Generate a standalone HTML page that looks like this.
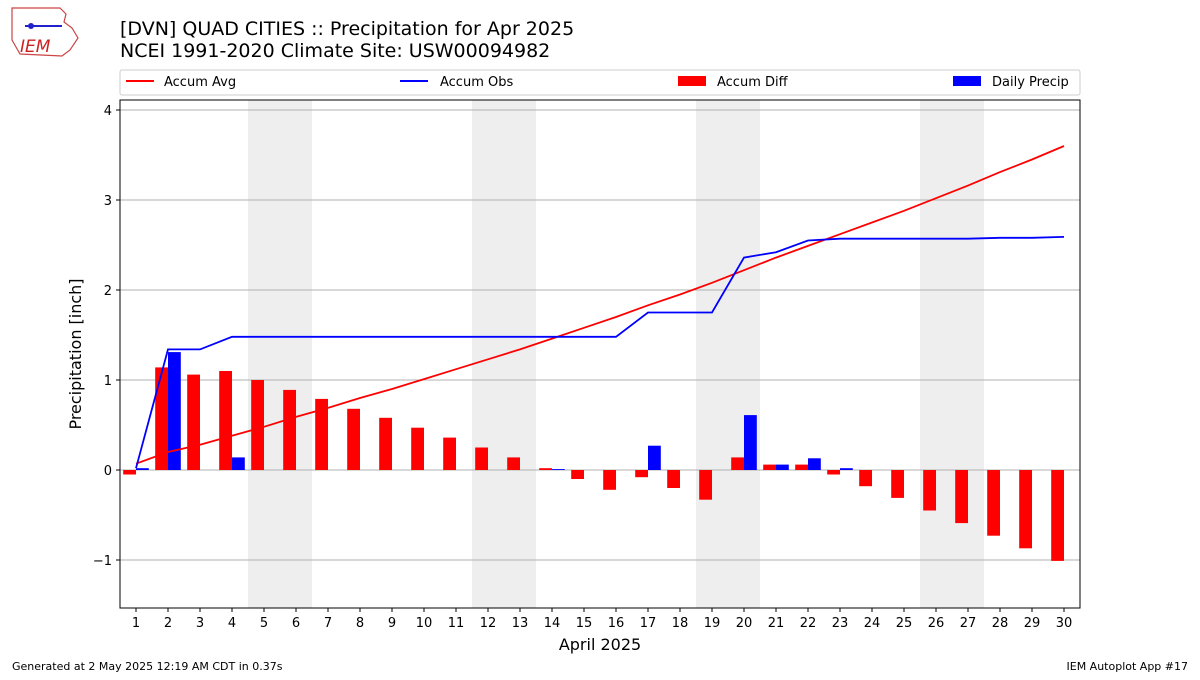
<!DOCTYPE html>
<html><head><meta charset="utf-8"><style>
body{margin:0;background:#fff;font-family:"Liberation Sans","DejaVu Sans",sans-serif;}
svg text{font-family:"DejaVu Sans","Liberation Sans",sans-serif;}
</style></head><body>
<svg id="chart" width="1200" height="675" xmlns="http://www.w3.org/2000/svg">
<g>
<path d="M12 8 L60 8 L66 14 L64 22 L72 28 L78 38 L70 50 L62 56 L20 54 L12 40 Z" fill="none" stroke="#c44" stroke-width="1.2"/>
<text x="20" y="52" font-size="17" fill="#c22" font-style="italic" font-family="Liberation Serif,serif">IEM</text>
<line x1="25" y1="26" x2="62" y2="26" stroke="#22c" stroke-width="2"/>
<circle cx="31" cy="26" r="3" fill="#22c"/>
</g>
<text x="120" y="35" font-size="19">[DVN] QUAD CITIES :: Precipitation for Apr 2025</text>
<text x="120" y="57" font-size="19">NCEI 1991-2020 Climate Site: USW00094982</text>
<g id="legend">
<rect x="120" y="70" width="960" height="25" fill="#fff" stroke="#ccc" rx="2"/>
<g><line x1="126" y1="81" x2="154" y2="81" stroke="red" stroke-width="2"/><text x="164" y="86" font-size="13">Accum Avg</text></g>
<g><line x1="400" y1="81" x2="428" y2="81" stroke="blue" stroke-width="2"/><text x="440" y="86" font-size="13">Accum Obs</text></g>
<g><rect x="678" y="76" width="28" height="10" fill="red"/><text x="717" y="86" font-size="13">Accum Diff</text></g>
<g><rect x="953" y="76" width="28" height="10" fill="blue"/><text x="992" y="86" font-size="13">Daily Precip</text></g>
</g>
<g id="plot"></g>
<text x="600" y="650" font-size="16" text-anchor="middle">April 2025</text>
<text transform="translate(81,354) rotate(-90)" font-size="16" text-anchor="middle">Precipitation [inch]</text>
<text x="12" y="670" font-size="11">Generated at 2 May 2025 12:19 AM CDT in 0.37s</text>
<text x="1188" y="670" font-size="11" text-anchor="end">IEM Autoplot App #17</text>
</svg>
<script>
const days=[1,2,3,4,5,6,7,8,9,10,11,12,13,14,15,16,17,18,19,20,21,22,23,24,25,26,27,28,29,30];
const accumAvg=[0.07,0.20,0.28,0.38,0.48,0.59,0.69,0.80,0.90,1.01,1.12,1.23,1.34,1.46,1.58,1.70,1.83,1.95,2.08,2.22,2.36,2.49,2.62,2.75,2.88,3.02,3.16,3.31,3.45,3.60];
const accumObs=[0.02,1.34,1.34,1.48,1.48,1.48,1.48,1.48,1.48,1.48,1.48,1.48,1.48,1.48,1.48,1.48,1.75,1.75,1.75,2.36,2.42,2.55,2.57,2.57,2.57,2.57,2.57,2.58,2.58,2.59];
const accumDiff=[-0.05,1.14,1.06,1.10,1.00,0.89,0.79,0.68,0.58,0.47,0.36,0.25,0.14,0.02,-0.10,-0.22,-0.08,-0.20,-0.33,0.14,0.06,0.06,-0.05,-0.18,-0.31,-0.45,-0.59,-0.73,-0.87,-1.01];
const dailyPrecip=[0.02,1.31,0,0.14,0,0,0,0,0,0,0,0,0,0.01,0,0,0.27,0,0,0.61,0.06,0.13,0.02,0,0,0,0,0,0,0];
const yTicks=[-1,0,1,2,3,4];
const yTickLabels=["\u22121","0","1","2","3","4"];
const weekends=[[4.5,6.5],[11.5,13.5],[18.5,20.5],[25.5,27.5]];
const L=120,R=1080,T=100,B=608;
const X=d=>L+(d-0.5)*(R-L)/30;
const Y=v=>470-v*90;
const NS="http://www.w3.org/2000/svg";
const g=document.getElementById('plot');
function mk(t,a,p){const e=document.createElementNS(NS,t);for(const k in a)e.setAttribute(k,a[k]);(p||g).appendChild(e);return e;}
weekends.forEach(w=>{const e=mk('rect',{x:X(w[0]),y:T,width:X(w[1])-X(w[0]),height:B-T,fill:'#eeeeee'});

});
yTicks.forEach((v,i)=>{const l=mk('line',{x1:L,x2:R,y1:Y(v),y2:Y(v),stroke:'#b0b0b0','stroke-width':1});


mk('line',{x1:L-4,x2:L,y1:Y(v),y2:Y(v),stroke:'#000'});
const t=mk('text',{x:L-8,y:Y(v)+5,'font-size':13,'text-anchor':'end'});t.textContent=yTickLabels[i];

});
const bw=(R-L)/30*0.4;
days.forEach((d,i)=>{
const v=accumDiff[i];const r=mk('rect',{x:X(d)-bw,y:Math.min(Y(v),Y(0)),width:bw,height:Math.abs(Y(v)-Y(0)),fill:'red'});


const p=dailyPrecip[i];if(p>0){const b=mk('rect',{x:X(d),y:Y(p),width:bw,height:Y(0)-Y(p),fill:'blue'});

}
mk('line',{x1:X(d),x2:X(d),y1:B,y2:B+4,stroke:'#000'});
const t=mk('text',{x:X(d),y:B+19,'font-size':13,'text-anchor':'middle'});t.textContent=d;

});
const la=mk('polyline',{points:days.map((d,i)=>X(d)+','+Y(accumAvg[i])).join(' '),fill:'none',stroke:'red','stroke-width':1.8});


const lo=mk('polyline',{points:days.map((d,i)=>X(d)+','+Y(accumObs[i])).join(' '),fill:'none',stroke:'blue','stroke-width':1.8});


const fr=mk('rect',{x:L,y:T,width:R-L,height:B-T,fill:'none',stroke:'#000','stroke-width':1});


</script>
</body></html>
